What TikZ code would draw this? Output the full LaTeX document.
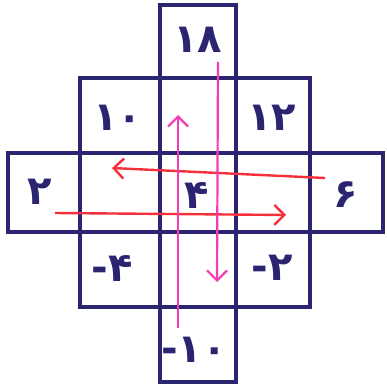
\documentclass[tikz,border=0pt]{standalone}
\usepackage{fontspec}
\newfontfamily\arabicfont[Script=Arabic]{DejaVu Sans}
\newfontfamily\plainfont{DejaVu Sans}
\usetikzlibrary{arrows.meta}
\definecolor{ink}{HTML}{2B2470}
\definecolor{redink}{HTML}{F5303A}
\definecolor{pinkink}{HTML}{F53CB8}
\newcommand{\negnum}[1]{{\plainfont\bfseries -}{\arabicfont\bfseries #1}}
\tikzset{
  box/.style={draw=ink, line width=3.2pt},
  num/.style={text=ink, font=\fontsize{40}{46}\selectfont\bfseries, inner sep=0pt},
  redarrow/.style={draw=redink, line width=2.4pt, -{Straight Barb[length=10pt,width=20pt,line width=2.4pt]}},
  pinkarrow/.style={draw=pinkink, line width=2.2pt, -{Straight Barb[length=10pt,width=20pt,line width=2.2pt]}}
}
\begin{document}
\begin{tikzpicture}[x=1pt,y=-1pt]
\useasboundingbox (0,0) rectangle (386,388);
\fill[white] (0,0) rectangle (386,388);
% outlines
\draw[box] (160,5) rectangle (236,382);
\draw[box] (80,78) rectangle (310,307);
\draw[box] (8,153) rectangle (383,232);
% numbers
\node[num] (n18) at (198,40) {\arabicfont ۱۸};
\node[num] (n10) at (118,118) {\arabicfont ۱۰};
\node[num] (n12) at (272,118) {\arabicfont ۱۲};
\node[num] (n2) at (40,192) {\arabicfont ۲};
\node[num] (n4) at (197,195) {\arabicfont ۴};
\node[num] (n6) at (346,195) {\arabicfont ۶};
\node[num] (nm4) at (112,268) {\negnum{۴}};
\node[num] (nm2) at (272,268) {\negnum{۲}};
\node[num] (nm10) at (194,350) {\negnum{۱۰}};
% arrow endpoints
\coordinate (ra1) at (325,178);
\coordinate (rb1) at (112,168);
\coordinate (ra2) at (55,213);
\coordinate (rb2) at (286,215);
\coordinate (pa1) at (178,328);
\coordinate (pb1) at (178,115);
\coordinate (pa2) at (218,62);
\coordinate (pb2) at (217,282);
\draw[redarrow] (ra1) -- (rb1);
\draw[redarrow] (ra2) -- (rb2);
\draw[pinkarrow] (pa1) -- (pb1);
\draw[pinkarrow] (pa2) -- (pb2);
\end{tikzpicture}
\end{document}
